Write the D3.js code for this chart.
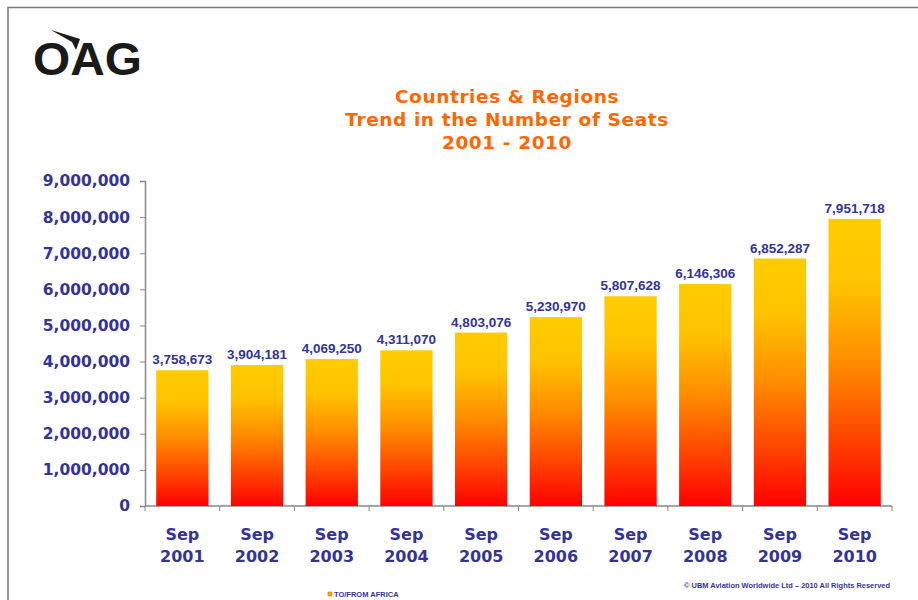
<!DOCTYPE html>
<html>
<head>
<meta charset="utf-8">
<script src="https://cdn.jsdelivr.net/npm/d3@7"></script>
<style>
  body { margin: 0; background: #fff; }
  svg { display: block; }
</style>
</head>
<body>
<div id="chart"></div>
<script>
// --- DATA ---
const categories = ['2001', '2002', '2003', '2004', '2005', '2006', '2007', '2008', '2009', '2010'];
const seats = [3758673, 3904181, 4069250, 4311070, 4803076, 5230970, 5807628, 6146306, 6852287, 7951718];
const yTicks = [0, 1000000, 2000000, 3000000, 4000000, 5000000, 6000000, 7000000, 8000000, 9000000];
const titleLines = ['Countries & Regions', 'Trend in the Number of Seats', '2001 - 2010'];

const W = 918, H = 600;
const navy = '#333399';

const svg = d3.select('#chart').append('svg')
    .attr('width', W)
    .attr('height', H);

// gradient for bars (yellow top -> red bottom)
const grad = svg.append('defs').append('linearGradient')
    .attr('id', 'barGrad')
    .attr('x1', 0).attr('y1', 0).attr('x2', 0).attr('y2', 1);
grad.append('stop').attr('offset', '0%').attr('stop-color', '#ffcc00');
grad.append('stop').attr('offset', '22%').attr('stop-color', '#ffc400');
grad.append('stop').attr('offset', '50%').attr('stop-color', '#ff8c00');
grad.append('stop').attr('offset', '78%').attr('stop-color', '#ff4000');
grad.append('stop').attr('offset', '100%').attr('stop-color', '#ff0000');

// frame lines (top + left)
svg.append('line').attr('x1', 8).attr('y1', 7.5).attr('x2', W).attr('y2', 7.5)
    .attr('stroke', '#777').attr('stroke-width', 1.5);
svg.append('line').attr('x1', 8).attr('y1', 7).attr('x2', 8).attr('y2', H)
    .attr('stroke', '#777').attr('stroke-width', 1.5);

// --- LOGO ---
const logo = svg.append('g');
logo.append('text')
    .attr('x', 33).attr('y', 75)
    .attr('font-family', '"Liberation Sans", Arial, sans-serif')
    .attr('font-weight', 'bold')
    .attr('font-size', 46)
    .attr('textLength', 109)
    .attr('lengthAdjust', 'spacingAndGlyphs')
    .attr('fill', '#1a1a1a')
    .text('OAG');
logo.append('path')
    .attr('d', 'M51,30 L80,39 L76,50 L72,42 Z')
    .attr('fill', '#1a1a1a');

// --- TITLE ---
svg.append('g').selectAll('text')
    .data(titleLines)
    .join('text')
    .attr('x', 507)
    .attr('y', (d, i) => 103 + i * 23)
    .attr('text-anchor', 'middle')
    .attr('font-family', '"DejaVu Sans", Verdana, sans-serif')
    .attr('font-weight', 'bold')
    .attr('font-size', 18.5)
    .attr('letter-spacing', 0.6)
    .attr('fill', '#ff6600')
    .text(d => d);

// --- SCALES ---
const x = d3.scaleBand()
    .domain(categories)
    .range([145, 892])
    .paddingInner(0.3)
    .paddingOuter(0.15);

const y = d3.scaleLinear()
    .domain([0, 9000000])
    .range([506, 181]);

// --- AXES ---
const yAxis = svg.append('g')
    .attr('transform', 'translate(145,0)')
    .call(d3.axisLeft(y).tickValues(yTicks).tickFormat(d3.format(',')).tickSize(5).tickPadding(10));
yAxis.select('.domain').attr('stroke', '#888').attr('stroke-width', 1.5);
yAxis.selectAll('.tick line').attr('stroke', '#888');
yAxis.selectAll('.tick text')
    .attr('font-family', '"DejaVu Sans", Verdana, sans-serif')
    .attr('font-weight', 'bold')
    .attr('font-size', 15.5)
    .attr('fill', navy);

// x axis line + boundary ticks
const xAxis = svg.append('g');
xAxis.append('line')
    .attr('x1', 145).attr('x2', 892).attr('y1', 506).attr('y2', 506)
    .attr('stroke', '#888').attr('stroke-width', 1.5);
const bounds = categories.map(c => x(c) - x.step() * x.paddingInner() / 2).concat([892]);
xAxis.selectAll('.btick')
    .data(bounds)
    .join('line')
    .attr('class', 'btick')
    .attr('x1', d => d).attr('x2', d => d)
    .attr('y1', 506).attr('y2', 511)
    .attr('stroke', '#888');

const xLabels = xAxis.selectAll('.xlab')
    .data(categories)
    .join('text')
    .attr('class', 'xlab')
    .attr('text-anchor', 'middle')
    .attr('font-family', '"DejaVu Sans", Verdana, sans-serif')
    .attr('font-weight', 'bold')
    .attr('font-size', 16)
    .attr('fill', navy);
xLabels.append('tspan')
    .attr('x', d => x(d) + x.bandwidth() / 2)
    .attr('y', 540)
    .text('Sep');
xLabels.append('tspan')
    .attr('x', d => x(d) + x.bandwidth() / 2)
    .attr('y', 562)
    .text(d => d);

// --- BARS ---
const rows = categories.map((c, i) => ({ cat: c, value: seats[i] }));

svg.append('g').selectAll('rect')
    .data(rows)
    .join('rect')
    .attr('x', d => x(d.cat))
    .attr('y', d => y(d.value))
    .attr('width', x.bandwidth())
    .attr('height', d => y(0) - y(d.value))
    .attr('fill', 'url(#barGrad)');

svg.append('g').selectAll('text')
    .data(rows)
    .join('text')
    .attr('x', d => x(d.cat) + x.bandwidth() / 2)
    .attr('y', d => y(d.value) - 6)
    .attr('text-anchor', 'middle')
    .attr('font-family', '"Liberation Sans", Arial, sans-serif')
    .attr('font-weight', 'bold')
    .attr('font-size', 13.5)
    .attr('fill', navy)
    .text(d => d3.format(',')(d.value));

// --- FOOTNOTES ---
svg.append('text')
    .attr('x', 684).attr('y', 588)
    .attr('font-family', '"Liberation Sans", Arial, sans-serif')
    .attr('font-weight', 'bold')
    .attr('font-size', 7.5)
    .attr('textLength', 206)
    .attr('lengthAdjust', 'spacingAndGlyphs')
    .attr('fill', navy)
    .text('\u00a9 UBM Aviation Worldwide Ltd \u2013 2010 All Rights Reserved');

svg.append('rect')
    .attr('x', 328).attr('y', 592).attr('width', 4).attr('height', 4)
    .attr('fill', '#ffaa00').attr('stroke', '#cc6600').attr('stroke-width', 0.5);
svg.append('text')
    .attr('x', 334).attr('y', 597)
    .attr('font-family', '"Liberation Sans", Arial, sans-serif')
    .attr('font-weight', 'bold')
    .attr('font-size', 7.5)
    .attr('fill', navy)
    .text('TO/FROM AFRICA');
</script>
</body>
</html>
